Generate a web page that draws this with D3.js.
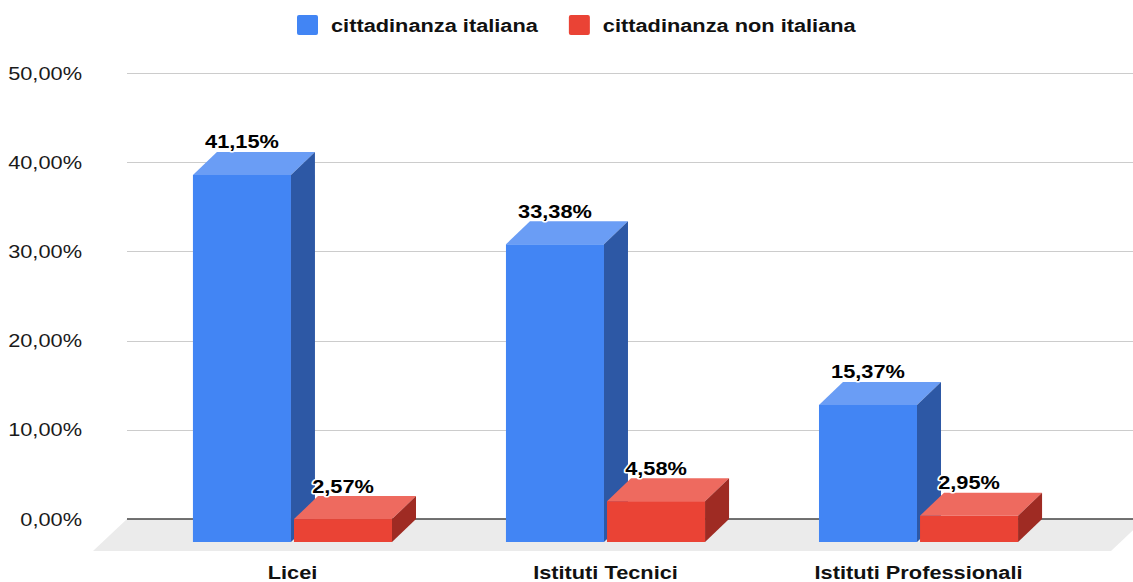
<!DOCTYPE html>
<html>
<head>
<meta charset="utf-8">
<script src="https://cdn.jsdelivr.net/npm/d3@7"></script>
<style>
    body { margin: 0; background: #fff; }
    svg  { display: block; font-family: "Liberation Sans", Arial, sans-serif; }
</style>
</head>
<body>
<svg id="chart" width="1133" height="582"></svg>
<script>
// data
const categories   = ["Licei", "Istituti Tecnici", "Istituti Professionali"];
const seriesNames  = ["cittadinanza italiana", "cittadinanza non italiana"];
const italiana     = [41.15, 33.38, 15.37];
const nonItaliana  = [2.57, 4.58, 2.95];
const yTicks       = [0, 10, 20, 30, 40, 50];

const seriesValues = [italiana, nonItaliana];

// face colours: front, top, side
const palette = [
    { front: "#4285f4", top: "#6a9df5", side: "#2d58a5" },
    { front: "#ea4335", top: "#ee6a5f", side: "#9f2b23" }
];

const svg = d3.select("#chart");

const itLocale = d3.formatLocale({ decimal: ",", thousands: ".", grouping: [3], currency: ["", "€"] });
const pct      = v => itLocale.format(".2f")(v) + "%";

// text in the picture is stretched horizontally
const stretch  = 1.21;
const fontSize = 18;

function stretchedText(parent, x, y, str, anchor, weight)
{
    return parent.append("text")
        .attr("transform",   `translate(${x},${y}) scale(${stretch},1)`)
        .attr("text-anchor", anchor)
        .attr("font-size",   fontSize)
        .attr("font-weight", weight)
        .text(str);
}

const plotLeft  = 127;
const plotRight = 1145;

const y = d3.scaleLinear()
    .domain([0, 50])
    .range([519, 73]);

const x0 = d3.scaleBand()
    .domain(categories)
    .range([79, 1132])
    .paddingInner(0.364)
    .paddingOuter(0.364);

const x1 = d3.scaleBand()
    .domain(seriesNames)
    .range([0, x0.bandwidth()])
    .paddingInner(0.03);

// 3d depth of bars and floor
const depthX  = 24, depthY  = 23;
const floorDX = 34, floorDY = 32;

// floor
const y0 = y(0);
svg.append("polygon")
    .attr("points", [
        [plotLeft, y0], [plotRight, y0],
        [plotRight - floorDX, y0 + floorDY], [plotLeft - floorDX, y0 + floorDY]
    ].join(" "))
    .attr("fill", "#ebebeb");

// gridlines
svg.append("g").selectAll("line")
    .data(yTicks.filter(t => t !== 0))
    .enter().append("line")
        .attr("x1", plotLeft)
        .attr("x2", plotRight)
        .attr("y1", d => Math.round(y(d)) + 0.5)
        .attr("y2", d => Math.round(y(d)) + 0.5)
        .attr("stroke", "#cccccc")
        .attr("stroke-width", 1);

svg.append("line")
    .attr("x1", plotLeft)
    .attr("x2", plotRight)
    .attr("y1", y0)
    .attr("y2", y0)
    .attr("stroke", "#444")
    .attr("stroke-width", 1.6);

// tick labels
const tickG = svg.append("g").attr("fill", "#1a1a1a");
yTicks.forEach(t => stretchedText(tickG, 82, y(t) + 6.5, pct(t), "end", "normal"));

// bars
const bars = [];
seriesNames.forEach((s, si) =>
{
    categories.forEach((c, ci) =>
    {
        bars.push({ cat: c, series: s, si: si, value: seriesValues[si][ci] });
    });
});
// draw left to right so the nearer bar covers the side of the previous one
bars.sort((a, b) => (x0(a.cat) + x1(a.series)) - (x0(b.cat) + x1(b.series)));

const barG = svg.append("g");
bars.forEach(d =>
{
    const col = palette[d.si];
    const bx  = x0(d.cat) + x1(d.series);
    const bw  = x1.bandwidth();
    const top = y(d.value) + depthY;
    const bot = y0 + depthY;

    const g = barG.append("g");
    g.append("rect")
        .attr("x", bx).attr("y", top)
        .attr("width", bw).attr("height", bot - top)
        .attr("fill", col.front);
    g.append("polygon")
        .attr("points", [[bx, top], [bx + depthX, top - depthY], [bx + bw + depthX, top - depthY], [bx + bw, top]].join(" "))
        .attr("fill", col.top);
    g.append("polygon")
        .attr("points", [[bx + bw, top], [bx + bw + depthX, top - depthY], [bx + bw + depthX, bot - depthY], [bx + bw, bot]].join(" "))
        .attr("fill", col.side);
});

// value labels
const labelG = svg.append("g")
    .attr("fill", "#000")
    .attr("stroke", "#fff")
    .attr("stroke-width", 3)
    .attr("stroke-linejoin", "round")
    .attr("paint-order", "stroke");
bars.forEach(d =>
{
    const cx = x0(d.cat) + x1(d.series) + x1.bandwidth() / 2;
    stretchedText(labelG, cx, y(d.value) - 3.5, pct(d.value), "middle", "bold");
});

// category labels
const catG = svg.append("g").attr("fill", "#111");
categories.forEach(c => stretchedText(catG, x0(c) + x0.bandwidth() / 2, 579, c, "middle", "bold"));

// legend
const legendG = svg.append("g");
let lx = 297;
seriesNames.forEach((s, si) =>
{
    legendG.append("rect")
        .attr("x", lx).attr("y", 15)
        .attr("width", 21).attr("height", 20)
        .attr("rx", 2)
        .attr("fill", palette[si].front);
    const t = stretchedText(legendG, lx + 34, 32, s, "start", "bold").attr("fill", "#111");
    lx += 34 + t.node().getComputedTextLength() * stretch + 31;
});
</script>
</body>
</html>
